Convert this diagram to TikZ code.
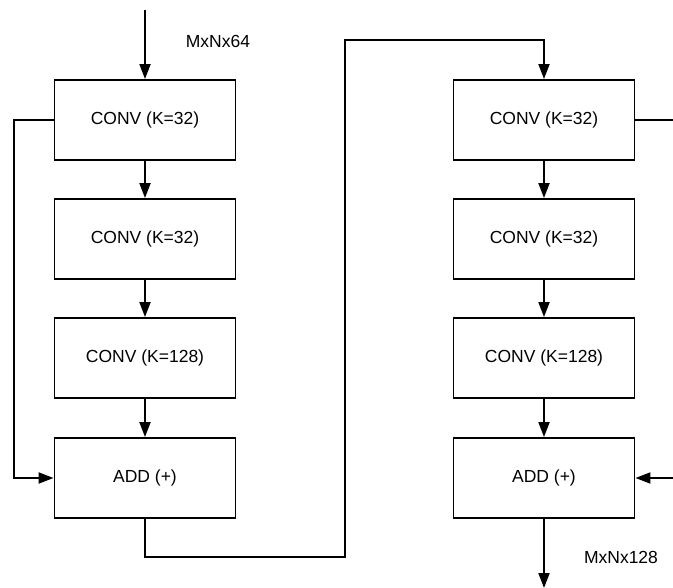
\documentclass[tikz,border=0pt]{standalone}
\usepackage{fontspec}
\setmainfont{Liberation Sans}
\usetikzlibrary{arrows.meta}
\begin{document}
\begin{tikzpicture}[x=1pt,y=-1pt,
  blk/.style={draw,line width=1.9pt,minimum width=181pt,minimum height=80pt,inner sep=0pt,font=\fontsize{17.5}{20}\selectfont},
  lbl/.style={font=\fontsize{17.5}{20}\selectfont,inner sep=0pt},
  wire/.style={line width=1.9pt},
  arr/.style={wire,-{Triangle[length=15pt,width=11pt]}}]
\useasboundingbox (0,0) rectangle (673,588);
% left column
\node[blk] (a1) at (145,120) {CONV (K=32)};
\node[blk] (a2) at (145,239) {CONV (K=32)};
\node[blk] (a3) at (145,358) {CONV (K=128)};
\node[blk] (a4) at (145,478) {ADD (+)};
% right column
\node[blk] (b1) at (544,120) {CONV (K=32)};
\node[blk] (b2) at (544,239) {CONV (K=32)};
\node[blk] (b3) at (544,358) {CONV (K=128)};
\node[blk] (b4) at (544,478) {ADD (+)};
% labels
\node[lbl] (l1) at (218,41) {MxNx64};
\node[lbl] (l2) at (621,557) {MxNx128};
% coordinates
\coordinate (tin) at (145,10);
\coordinate (bout) at (544,588);
\coordinate (rtop) at (673,120);
\coordinate (rbot) at (673,478);
% arrows
\draw[arr] (tin) -- (a1.north);
\draw[arr] (a1) -- (a2);
\draw[arr] (a2) -- (a3);
\draw[arr] (a3) -- (a4);
\draw[arr] (a1.west) -- (14,120) -- (14,478) -- (a4.west);
\draw[arr] (a4.south) -- (145,557) -- (345,557) -- (345,40) -- (544,40) -- (b1.north);
\draw[arr] (b1) -- (b2);
\draw[arr] (b2) -- (b3);
\draw[arr] (b3) -- (b4);
\draw[wire] (b1.east) -- (rtop);
\draw[arr] (rbot) -- (b4.east);
\draw[arr] (b4.south) -- (bout);
\end{tikzpicture}
\end{document}
